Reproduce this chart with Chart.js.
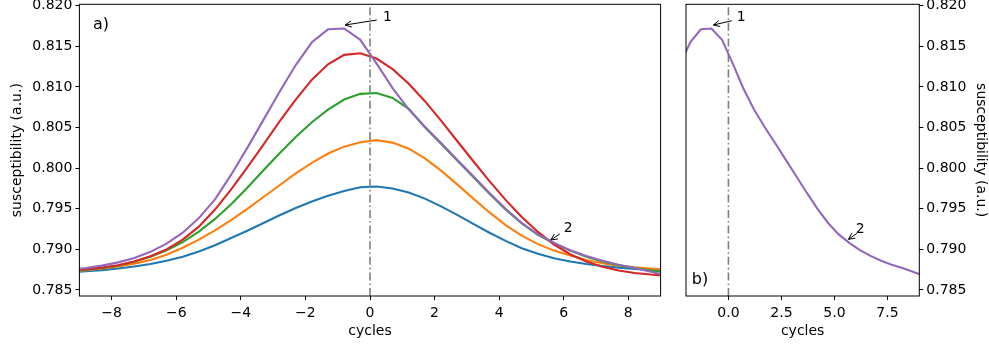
<!DOCTYPE html>
<html>
<head>
<meta charset="utf-8">
<script src="https://cdn.jsdelivr.net/npm/chart.js@4/dist/chart.umd.min.js"></script>
<style>
  html, body { margin: 0; padding: 0; background: #fff; }
  #wrap { position: relative; width: 989px; height: 348px; }
  canvas { position: absolute; top: 0; }
  #chartA { left: 0; }
  #chartB { left: 670px; }
</style>
</head>
<body>
<div id="wrap">
  <canvas id="chartA" width="670" height="348"></canvas>
  <canvas id="chartB" width="319" height="348"></canvas>
</div>
<script>
// cycles relative to the reference (sampling every half cycle)
const cycles = [-9.3, -8.8, -8.3, -7.8, -7.3, -6.8, -6.3, -5.8, -5.3, -4.8,
                -4.3, -3.8, -3.3, -2.8, -2.3, -1.8, -1.3, -0.8, -0.3, 0.2,
                0.7, 1.2, 1.7, 2.2, 2.7, 3.2, 3.7, 4.2, 4.7, 5.2,
                5.7, 6.2, 6.7, 7.2, 7.7, 8.2, 8.7, 9.2];

const curve1 = [0.78720, 0.78730, 0.78745, 0.78765, 0.78790, 0.78820, 0.78860, 0.78910, 0.78975, 0.79050,
                0.79140, 0.79230, 0.79325, 0.79420, 0.79510, 0.79590, 0.79660, 0.79720, 0.79765, 0.79775,
                0.79750, 0.79700, 0.79625, 0.79530, 0.79425, 0.79315, 0.79205, 0.79105, 0.79015, 0.78945,
                0.78890, 0.78850, 0.78820, 0.78795, 0.78775, 0.78760, 0.78748, 0.78738];
const curve2 = [0.78730, 0.78745, 0.78765, 0.78790, 0.78825, 0.78870, 0.78935, 0.79020, 0.79120, 0.79235,
                0.79360, 0.79500, 0.79645, 0.79790, 0.79935, 0.80065, 0.80180, 0.80265, 0.80320, 0.80345,
                0.80315, 0.80240, 0.80120, 0.79970, 0.79800, 0.79625, 0.79455, 0.79300, 0.79170, 0.79065,
                0.78985, 0.78925, 0.78870, 0.78830, 0.78800, 0.78780, 0.78765, 0.78750];
const curve3 = [0.78740, 0.78750, 0.78770, 0.78800, 0.78850, 0.78910, 0.78990, 0.79090, 0.79220, 0.79375,
                0.79555, 0.79760, 0.79975, 0.80185, 0.80385, 0.80565, 0.80720, 0.80845, 0.80915, 0.80925,
                0.80865, 0.80730, 0.80505, 0.80300, 0.80095, 0.79890, 0.79685, 0.79490, 0.79320, 0.79180,
                0.79075, 0.78985, 0.78910, 0.78850, 0.78805, 0.78770, 0.78740, 0.78715];
const curve4 = [0.78740, 0.78755, 0.78775, 0.78805, 0.78850, 0.78915, 0.79000, 0.79120, 0.79280, 0.79490,
                0.79740, 0.80010, 0.80290, 0.80575, 0.80845, 0.81090, 0.81280, 0.81395, 0.81415, 0.81350,
                0.81220, 0.81040, 0.80825, 0.80585, 0.80335, 0.80085, 0.79840, 0.79610, 0.79400, 0.79215,
                0.79060, 0.78940, 0.78850, 0.78785, 0.78740, 0.78710, 0.78690, 0.78675];
const curve5 = [0.78750, 0.78770, 0.78800, 0.78840, 0.78895, 0.78970, 0.79070, 0.79205, 0.79385, 0.79615,
                0.79920, 0.80250, 0.80595, 0.80940, 0.81270, 0.81550, 0.81710, 0.81720, 0.81580, 0.81290,
                0.80985, 0.80725, 0.80510, 0.80310, 0.80105, 0.79900, 0.79695, 0.79500, 0.79325, 0.79185,
                0.79080, 0.78990, 0.78920, 0.78860, 0.78810, 0.78770, 0.78725, 0.78675];

const xTicksA = [-8, -6, -4, -2, 0, 2, 4, 6, 8];
const xTicksB = [0, 2.5, 5, 7.5];
const yTicks = [0.785, 0.790, 0.795, 0.800, 0.805, 0.810, 0.815, 0.820];

const colores = ['#1f77b4', '#ff7f0e', '#2ca02c', '#d62728', '#9467bd'];
const FAM = "'DejaVu Sans', sans-serif";

function puntos(serie) {
  return cycles.map((c, i) => ({x: c, y: serie[i]}));
}
function linea(serie, color) {
  return {data: puntos(serie), borderColor: color, borderWidth: 2.1, pointRadius: 0,
          tension: 0, fill: false, clip: 0};
}
function menos(v) {
  return String(v).replace('-', '\u2212');
}

function flecha(ctx, x1, y1, x2, y2) {
  const ang = Math.atan2(y2 - y1, x2 - x1);
  const h = 7;
  ctx.beginPath();
  ctx.moveTo(x1, y1);
  ctx.lineTo(x2, y2);
  ctx.moveTo(x2 - h * Math.cos(ang - 0.45), y2 - h * Math.sin(ang - 0.45));
  ctx.lineTo(x2, y2);
  ctx.lineTo(x2 - h * Math.cos(ang + 0.45), y2 - h * Math.sin(ang + 0.45));
  ctx.stroke();
}

// frame, x = 0 line, arrows and panel letter
const marco = {
  id: 'marco',
  afterDatasetsDraw(chart, args, opts) {
    const {ctx, chartArea: a, scales: {x, y}} = chart;
    ctx.save();
    const x0 = x.getPixelForValue(0);
    ctx.strokeStyle = '#7f7f7f';
    ctx.lineWidth = 1.6;
    ctx.setLineDash([8, 3, 1.6, 3]);
    ctx.beginPath();
    ctx.moveTo(x0, a.bottom);
    ctx.lineTo(x0, a.top);
    ctx.stroke();
    ctx.setLineDash([]);

    ctx.strokeStyle = '#000';
    ctx.lineWidth = 1;
    ctx.strokeRect(a.left, a.top, a.right - a.left, a.bottom - a.top);

    ctx.fillStyle = '#000';
    ctx.lineWidth = 1;
    ctx.font = '14px ' + FAM;
    ctx.textAlign = 'center';
    ctx.textBaseline = 'middle';
    opts.notas.forEach(n => {
      flecha(ctx, x.getPixelForValue(n.cola[0]), y.getPixelForValue(n.cola[1]),
             x.getPixelForValue(n.punta[0]), y.getPixelForValue(n.punta[1]));
      ctx.fillText(n.texto, x.getPixelForValue(n.en[0]), y.getPixelForValue(n.en[1]));
    });

    ctx.font = '16px ' + FAM;
    const ly = opts.letraAbajo ? a.bottom - 16.5 : a.top + 20.7;
    ctx.fillText(opts.letra, a.left + opts.letraDx, ly);
    ctx.restore();
  }
};

function ejeY(pos, ancho) {
  return {
    type: 'linear', position: pos, min: 0.78426, max: 0.82018,
    afterBuildTicks: s => { s.ticks = yTicks.map(v => ({value: v})); },
    afterFit: s => { s.width = ancho; s.paddingTop = 0; s.paddingBottom = 0; },
    grid: {drawOnChartArea: false, tickLength: 4, color: '#000', tickColor: '#000'},
    border: {display: false},
    ticks: {font: {family: FAM, size: 14}, color: '#000', padding: 3,
            callback: v => v.toFixed(3)},
    title: {display: true, text: 'susceptibility (a.u.)', color: '#000',
            font: {family: FAM, size: 14}, padding: {top: pos === 'left' ? 9 : 0, bottom: 0}}
  };
}
function ejeX(min, max, marcas, fmt) {
  return {
    type: 'linear', min: min, max: max,
    afterBuildTicks: s => { s.ticks = marcas.map(v => ({value: v})); },
    afterFit: s => { s.height = 52; s.paddingLeft = 0; s.paddingRight = 0; },
    grid: {drawOnChartArea: false, tickLength: 4, color: '#000', tickColor: '#000'},
    border: {display: false},
    ticks: {font: {family: FAM, size: 14}, color: '#000', padding: 5, maxRotation: 0,
            autoSkip: false, callback: fmt},
    title: {display: true, text: 'cycles', color: '#000',
            font: {family: FAM, size: 14}, padding: {top: 0, bottom: 8}}
  };
}

new Chart(document.getElementById('chartA').getContext('2d'), {
  type: 'line',
  data: {
    datasets: [linea(curve5, colores[4]), linea(curve4, colores[3]), linea(curve3, colores[2]),
               linea(curve2, colores[1]), linea(curve1, colores[0])]
  },
  options: {
    responsive: false, animation: false,
    layout: {padding: {left: 0, top: 4.3, right: 9.4, bottom: 0}},
    scales: {
      x: ejeX(-9, 9, xTicksA, v => menos(v)),
      y: ejeY('left', 79.4)
    },
    plugins: {
      legend: {display: false}, tooltip: {enabled: false},
      marco: {
        letra: 'a)', letraDx: 21.6, letraAbajo: false,
        notas: [
          {texto: '1', punta: [-0.77, 0.81763], cola: [0.21, 0.81824], en: [0.54, 0.81858]},
          {texto: '2', punta: [5.6, 0.79116], cola: [5.88, 0.7919], en: [6.14, 0.7926]}
        ]
      }
    }
  },
  plugins: [marco]
});

new Chart(document.getElementById('chartB').getContext('2d'), {
  type: 'line',
  data: {
    datasets: [linea(curve5, colores[4])]
  },
  options: {
    responsive: false, animation: false,
    layout: {padding: {left: 16, top: 4.3, right: 0, bottom: 0}},
    scales: {
      x: ejeX(-2, 9, xTicksB, v => v.toFixed(1)),
      y: ejeY('right', 69.7)
    },
    plugins: {
      legend: {display: false}, tooltip: {enabled: false},
      marco: {
        letra: 'b)', letraDx: 14, letraAbajo: true,
        notas: [
          {texto: '1', punta: [-0.71, 0.81763], cola: [0.16, 0.81816], en: [0.6, 0.81858]},
          {texto: '2', punta: [5.66, 0.79124], cola: [6.06, 0.79198], en: [6.21, 0.79247]}
        ]
      }
    }
  },
  plugins: [marco]
});
</script>
</body>
</html>
